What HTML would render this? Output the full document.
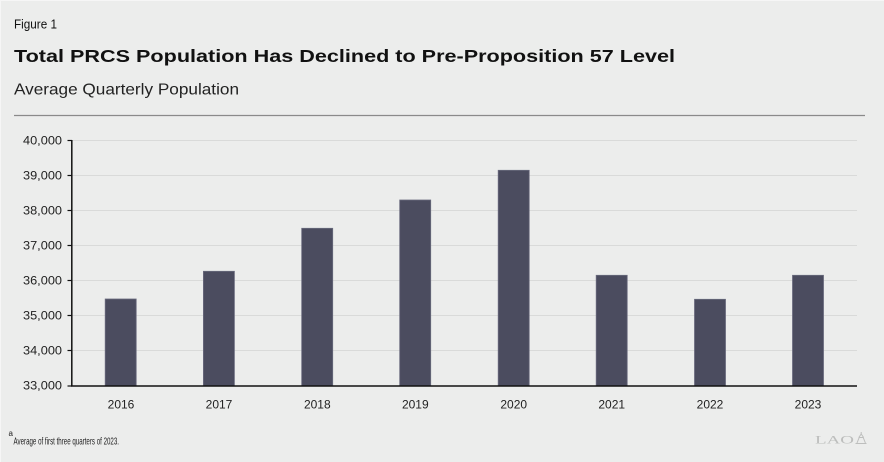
<!DOCTYPE html>
<html>
<head>
<meta charset="utf-8">
<style>
  html, body { margin: 0; padding: 0; background: #ecedec; }
  body { width: 884px; height: 462px; overflow: hidden; }
  svg { display: block; }
  text { font-family: "Liberation Sans", Arial, sans-serif; }
</style>
</head>
<body>
<svg width="884" height="462" viewBox="0 0 884 462" xmlns="http://www.w3.org/2000/svg">
  <rect x="0" y="0" width="884" height="462" fill="#ecedec"/>
  <line x1="0" y1="0.5" x2="884" y2="0.5" stroke="#f6f6f6" stroke-width="1"/>
  <line x1="0.5" y1="0" x2="0.5" y2="462" stroke="#f6f6f6" stroke-width="1"/>

  <!-- Header -->
  <text x="14" y="28.5" font-size="12.5" fill="#111" textLength="43" lengthAdjust="spacingAndGlyphs">Figure 1</text>
  <text x="14" y="62" font-size="17.5" font-weight="bold" fill="#111" textLength="661" lengthAdjust="spacingAndGlyphs">Total PRCS Population Has Declined to Pre-Proposition 57 Level</text>
  <text x="14" y="94.5" font-size="16" fill="#222" textLength="225" lengthAdjust="spacingAndGlyphs">Average Quarterly Population</text>
  <line x1="14" y1="115.5" x2="865" y2="115.5" stroke="#8a8a8a" stroke-width="1.2"/>

  <!-- Gridlines -->
  <g stroke="#d9dad9" stroke-width="1">
    <line x1="72" y1="140.5" x2="857" y2="140.5"/>
    <line x1="72" y1="175.5" x2="857" y2="175.5"/>
    <line x1="72" y1="210.5" x2="857" y2="210.5"/>
    <line x1="72" y1="245.5" x2="857" y2="245.5"/>
    <line x1="72" y1="280.5" x2="857" y2="280.5"/>
    <line x1="72" y1="315.5" x2="857" y2="315.5"/>
    <line x1="72" y1="350.5" x2="857" y2="350.5"/>
  </g>

  <!-- Bars -->
  <g fill="#4b4c5f" stroke="#6a6b7e" stroke-width="0.8">
    <rect x="105.2" y="299" width="31" height="87"/>
    <rect x="203.4" y="271.3" width="31" height="114.7"/>
    <rect x="301.7" y="228.3" width="31" height="157.7"/>
    <rect x="399.7" y="200" width="31" height="186"/>
    <rect x="498.2" y="170.3" width="31" height="215.7"/>
    <rect x="596.2" y="275.3" width="31" height="110.7"/>
    <rect x="694.5" y="299.3" width="31" height="86.7"/>
    <rect x="792.5" y="275.3" width="31" height="110.7"/>
  </g>

  <!-- Axes -->
  <line x1="71.8" y1="140" x2="71.8" y2="386.5" stroke="#111" stroke-width="1.5"/>
  <line x1="71" y1="386" x2="857" y2="386" stroke="#111" stroke-width="1.6"/>
  <g stroke="#111" stroke-width="1.2">
    <line x1="67.5" y1="140.5" x2="72" y2="140.5"/>
    <line x1="67.5" y1="175.5" x2="72" y2="175.5"/>
    <line x1="67.5" y1="210.5" x2="72" y2="210.5"/>
    <line x1="67.5" y1="245.5" x2="72" y2="245.5"/>
    <line x1="67.5" y1="280.5" x2="72" y2="280.5"/>
    <line x1="67.5" y1="315.5" x2="72" y2="315.5"/>
    <line x1="67.5" y1="350.5" x2="72" y2="350.5"/>
    <line x1="67.5" y1="386" x2="72" y2="386"/>
  </g>

  <!-- Y labels -->
  <g font-size="12" fill="#222" text-anchor="end">
    <text x="62" y="144.5" textLength="39" lengthAdjust="spacingAndGlyphs">40,000</text>
    <text x="62" y="179.5" textLength="39" lengthAdjust="spacingAndGlyphs">39,000</text>
    <text x="62" y="214.5" textLength="39" lengthAdjust="spacingAndGlyphs">38,000</text>
    <text x="62" y="249.5" textLength="39" lengthAdjust="spacingAndGlyphs">37,000</text>
    <text x="62" y="284.5" textLength="39" lengthAdjust="spacingAndGlyphs">36,000</text>
    <text x="62" y="319.5" textLength="39" lengthAdjust="spacingAndGlyphs">35,000</text>
    <text x="62" y="354.5" textLength="39" lengthAdjust="spacingAndGlyphs">34,000</text>
    <text x="62" y="389.5" textLength="39" lengthAdjust="spacingAndGlyphs">33,000</text>
  </g>

  <!-- X labels -->
  <g font-size="12" fill="#222" text-anchor="middle">
    <text x="121" y="408.5">2016</text>
    <text x="219" y="408.5">2017</text>
    <text x="317.3" y="408.5">2018</text>
    <text x="415.3" y="408.5">2019</text>
    <text x="513.7" y="408.5">2020</text>
    <text x="611.7" y="408.5">2021</text>
    <text x="710" y="408.5">2022</text>
    <text x="808" y="408.5">2023</text>
  </g>

  <!-- Footnote -->
  <text x="8.5" y="436" font-size="8" fill="#222">a</text>
  <text x="13.5" y="444.5" font-size="10.5" fill="#222" textLength="105.5" lengthAdjust="spacingAndGlyphs">Average of first three quarters of 2023.</text>

  <!-- LAO logo -->
  <text x="815" y="443.5" style="font-family:'Liberation Serif', serif" font-size="12" fill="#bdbebd" textLength="39" lengthAdjust="spacingAndGlyphs">LAO</text>
  <g fill="none" stroke="#bdbebd" stroke-width="1">
    <path d="M855.5 443.5 L866.5 443.5"/>
    <path d="M857 443 L859.2 437.5 L863.2 437.5 L865.4 443"/>
    <path d="M858.8 437.5 L861.2 434 L863.6 437.5"/>
    <line x1="861.2" y1="432" x2="861.2" y2="434"/>
  </g>
</svg>
</body>
</html>
